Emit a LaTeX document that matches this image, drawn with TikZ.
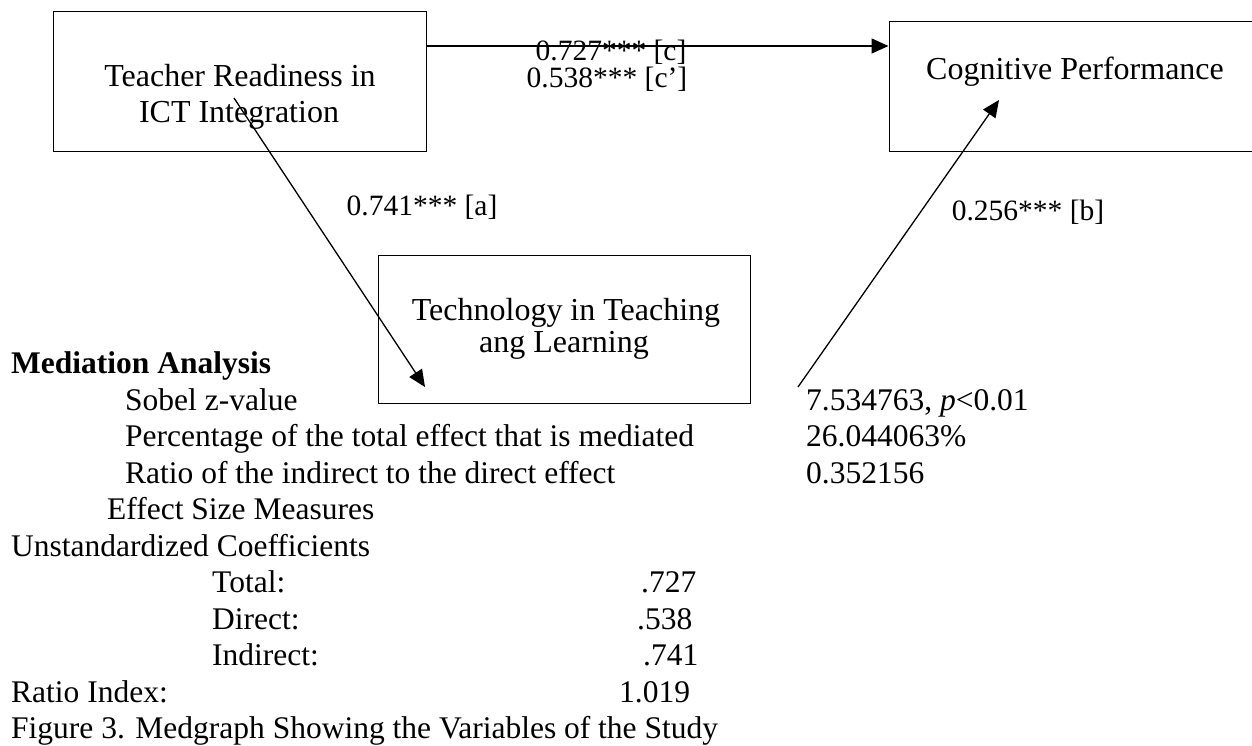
\documentclass[tikz,border=0pt]{standalone}
\usepackage{fontspec}
\setmainfont{Liberation Serif}
\usetikzlibrary{arrows.meta}
\begin{document}
\begin{tikzpicture}[x=1pt,y=-1pt,
  box/.style={draw, line width=1pt, rectangle, inner sep=0pt},
  boxtxt/.style={inner sep=0pt, anchor=base, font=\fontsize{32}{36}\selectfont},
  lbl/.style={inner sep=0pt, anchor=base, font=\fontsize{29.5}{34}\selectfont},
  txt/.style={inner sep=0pt, anchor=base west, font=\fontsize{31.5}{36.5}\selectfont},
  arr/.style={line width=1.3pt, -{Triangle[length=17pt,width=15pt]}}
]
% page area
\fill[white] (0,0) rectangle (1252,746);

\begin{scope}[overlay]
\clip (0,0) rectangle (1252,746);

% variable boxes
\node[box, minimum width=373pt, minimum height=140pt] (tr) at (239.5,82) {};
\node[box, minimum width=381pt, minimum height=130pt] (cp) at (1079.5,87) {};
\node[box, minimum width=372pt, minimum height=148pt] (tt) at (564,329) {};

% box captions
\node[boxtxt] (tr1) at (240,86.5) {Teacher Readiness in};
\node[boxtxt] (tr2) at (239,123) {ICT Integration};
\node[boxtxt] (cp1) at (1075,79.5) {Cognitive Performance};
\node[boxtxt] (tt1) at (566,320) {Technology in Teaching};
\node[boxtxt] (tt2) at (564,352) {ang Learning};

% paths of the mediation model
\coordinate (cy) at (0,46);
\coordinate (aS) at (234,98);
\coordinate (aE) at (425,387);
\coordinate (bS) at (798,387);
\coordinate (bE) at (999,100);
\draw[arr] (tr.east |- cy) -- (cp.west |- cy);
\draw[arr] (aS) -- (aE);
\draw[arr] (bS) -- (bE);

% path coefficients
\node[lbl] (lc) at (611,61) {0.727*** [c]};
\node[lbl] (lcp) at (607,88) {0.538*** [c’]};
\node[lbl] (la) at (422,215) {0.741*** [a]};
\node[lbl] (lb) at (1028,220) {0.256*** [b]};

% mediation analysis summary
\node[txt, font=\fontsize{31.5}{36.5}\selectfont\bfseries] (mh) at (11,373) {Mediation Analysis};
\node[txt] (s1) at (125,410) {Sobel z-value};
\node[txt] (s2) at (125,446.5) {Percentage of the total effect that is mediated};
\node[txt] (s3) at (125,483) {Ratio of the indirect to the direct effect};
\node[txt] (v1) at (806,410) {7.534763, \textit{p}<0.01};
\node[txt] (v2) at (806,446.5) {26.044063\%};
\node[txt] (v3) at (806,483) {0.352156};
\node[txt] (es) at (107,519) {Effect Size Measures};
\node[txt] (uc) at (11,556) {Unstandardized Coefficients};
\node[txt] (t1) at (212,592.5) {Total:};
\node[txt] (t2) at (212,629) {Direct:};
\node[txt] (t3) at (212,665.5) {Indirect:};
\node[txt] (n1) at (641,592.5) {.727};
\node[txt] (n2) at (637,629) {.538};
\node[txt] (n3) at (643,665.5) {.741};
\node[txt] (ri) at (11,702) {Ratio Index:};
\node[txt] (n4) at (619,702) {1.019};
\node[txt] (fc) at (11,738.5) {Figure 3. Medgraph Showing the Variables of the Study};
\end{scope}
\end{tikzpicture}
\end{document}
